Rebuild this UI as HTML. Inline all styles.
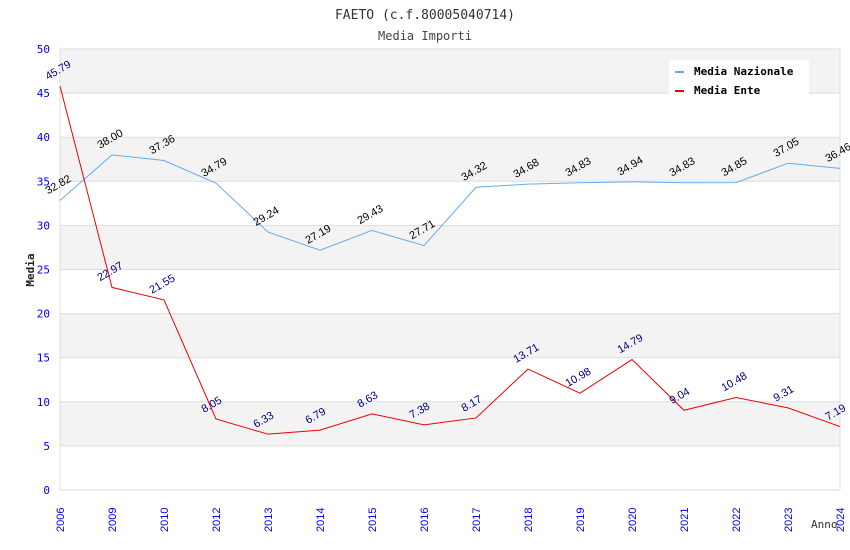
<!DOCTYPE html>
<html><head><meta charset="utf-8"><style>
body{margin:0;background:#fff}
svg{display:block;font-family:"DejaVu Sans Mono","Liberation Mono",monospace}
</style></head><body>
<svg id="c" width="850" height="550">
<text x="425" y="19" text-anchor="middle" font-size="13" fill="#333">FAETO (c.f.80005040714)</text>
<text x="425" y="40" text-anchor="middle" font-size="12" fill="#444">Media Importi</text>
<g id="plot"></g>
<text transform="translate(34,270) rotate(-90)" text-anchor="middle" font-size="11" font-weight="bold" fill="#222">Media</text>
<text x="811" y="528" font-size="11" fill="#333">Anno</text>
<g>
<rect x="669" y="60" width="140" height="35" fill="#fff"/>
<rect x="675" y="71" width="9" height="2" fill="#66aaee"/>
<text x="694" y="75" font-size="11" font-weight="bold" fill="#000">Media Nazionale</text>
<rect x="675" y="90" width="9" height="2" fill="#ee0000"/>
<text x="694" y="94" font-size="11" font-weight="bold" fill="#000">Media Ente</text>
</g>
</svg>
<script>
const categories=["2006","2009","2010","2012","2013","2014","2015","2016","2017","2018","2019","2020","2021","2022","2023","2024"];
const nazionale=[32.82,38.00,37.36,34.79,29.24,27.19,29.43,27.71,34.32,34.68,34.83,34.94,34.83,34.85,37.05,36.46];
const ente=[45.79,22.97,21.55,8.05,6.33,6.79,8.63,7.38,8.17,13.71,10.98,14.79,9.04,10.48,9.31,7.19];
const yTicks=[0,5,10,15,20,25,30,35,40,45,50];
const L=60,R=840,T=49,B=490,yMax=50;
const NS="http://www.w3.org/2000/svg";
const g=document.getElementById('plot');
const xs=i=>L+i*(R-L)/(categories.length-1);
const ys=v=>B-v*(B-T)/yMax;
function mk(t,a){const e=document.createElementNS(NS,t);for(const k in a)e.setAttribute(k,a[k]);g.appendChild(e);return e;}
for(let i=0;i<yTicks.length-1;i++){
 if(i%2==1){const r=mk('rect',{x:L,y:ys(yTicks[i+1]),width:R-L,height:ys(yTicks[i])-ys(yTicks[i+1]),fill:'#f3f3f3'});
 
 }
}
yTicks.forEach(v=>{
 const l=mk('line',{x1:L,x2:R,y1:ys(v),y2:ys(v),stroke:'#ddd'});
 
 
 const t=mk('text',{x:L-10,y:ys(v)+4,'text-anchor':'end','font-size':11,fill:'#0000ee'});
 t.textContent=v;
 
 
});
mk('line',{x1:L,x2:L,y1:T,y2:B,stroke:'#ddd'});
mk('line',{x1:R,x2:R,y1:T,y2:B,stroke:'#ddd'});
categories.forEach((c,i)=>{
 const t=mk('text',{transform:`translate(${xs(i)+4},${532}) rotate(-90)`,'font-size':11,fill:'#0000ee','font-family':'"Liberation Sans",sans-serif'});
 t.textContent=c;
 
 
});
function series(data,color,lc,name){
 const p=mk('polyline',{points:data.map((v,i)=>xs(i)+','+ys(v)).join(' '),fill:'none',stroke:color,'stroke-width':1});
 
 
 data.forEach((v,i)=>{
  const t=mk('text',{transform:`translate(${xs(i)-12},${ys(v)-6}) rotate(-30)`,'font-size':11,fill:lc,'font-family':'"Liberation Sans",sans-serif'});
  t.textContent=v.toFixed(2);
  
  
 });
}
series(nazionale,'#66aaee','#000','nazionale');
series(ente,'#ee0000','#000080','ente');
</script>
</body></html>
